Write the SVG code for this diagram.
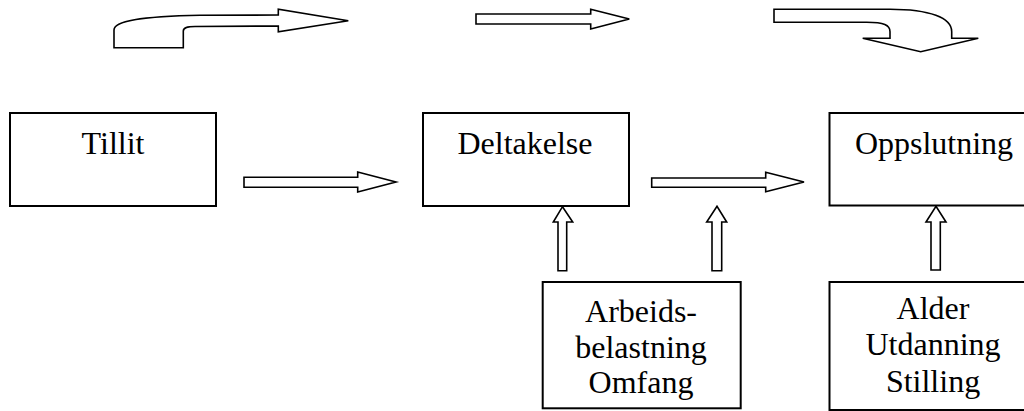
<svg xmlns="http://www.w3.org/2000/svg" width="1024" height="411" viewBox="0 0 1024 411">
<style>
.box{fill:#fff;stroke:#000;stroke-width:2}
.arr{fill:#fff;stroke:#000;stroke-width:1.6;stroke-linejoin:miter}
text{font-family:"Liberation Serif","Times New Roman",serif;font-size:32px;fill:#000;text-anchor:middle}
</style>
<rect width="1024" height="411" fill="#fff"/>
<g id="connectors">
<path class="arr" d="M114,47.7 L183.3,47.7 L183.3,31 C183.3,27.5 187,26.6 195,26.5 L278.3,26 L278.3,31.7 L348.3,20.7 L278.3,9.3 L278.3,15 L200,15.3 C140,16.5 114,21 114,30 Z"/>
<path class="arr" d="M476,14 L590.7,14 L590.7,9.3 L629.3,19 L590.7,29 L590.7,24 L476,24 Z"/>
<path class="arr" d="M774,9.3 L890,9.3 C930,9.3 951.7,18 951.7,31.7 L951.7,38.3 L978.3,38.3 L920.7,51.7 L862.7,38.3 L890,38.3 L890,31.7 C890,25 884,22.3 866.7,22.3 L774,22.3 Z"/>
<path class="arr" d="M244,177.3 L357.7,177.3 L357.7,172 L396,182 L357.7,192 L357.7,187.3 L244,187.3 Z"/>
<path class="arr" d="M651.7,178 L765.7,178 L765.7,172.3 L804,182 L765.7,191.7 L765.7,187.3 L651.7,187.3 Z"/>
<path class="arr" d="M558,270.7 L558,222 L553.3,222 L562.5,206.7 L572.7,222 L566.7,222 L566.7,270.7 Z"/>
<path class="arr" d="M712,270.7 L712,222 L706.7,222 L717,206.3 L726.7,222 L721.7,222 L721.7,270.7 Z"/>
<path class="arr" d="M931,270 L931,222 L926,222 L936,206.3 L946,222 L940.3,222 L940.3,270 Z"/>
</g>
<g id="tillit">
<rect class="box" x="10" y="113" width="206" height="93"/>
<text x="113" y="154">Tillit</text>
</g>
<g id="deltakelse">
<rect class="box" x="423" y="113" width="206" height="93"/>
<text x="525" y="154">Deltakelse</text>
</g>
<g id="oppslutning">
<rect class="box" x="829.5" y="113" width="220" height="92.5"/>
<text x="934" y="154">Oppslutning</text>
</g>
<g id="arbeid">
<rect class="box" x="542.7" y="282" width="198" height="126.3"/>
<text x="641" y="322">Arbeids-</text>
<text x="641" y="357.5">belastning</text>
<text x="641" y="393">Omfang</text>
</g>
<g id="alder">
<rect class="box" x="829.5" y="282" width="220" height="128"/>
<text x="933" y="318.5">Alder</text>
<text x="933" y="355">Utdanning</text>
<text x="933" y="391.5">Stilling</text>
</g>
</svg>
